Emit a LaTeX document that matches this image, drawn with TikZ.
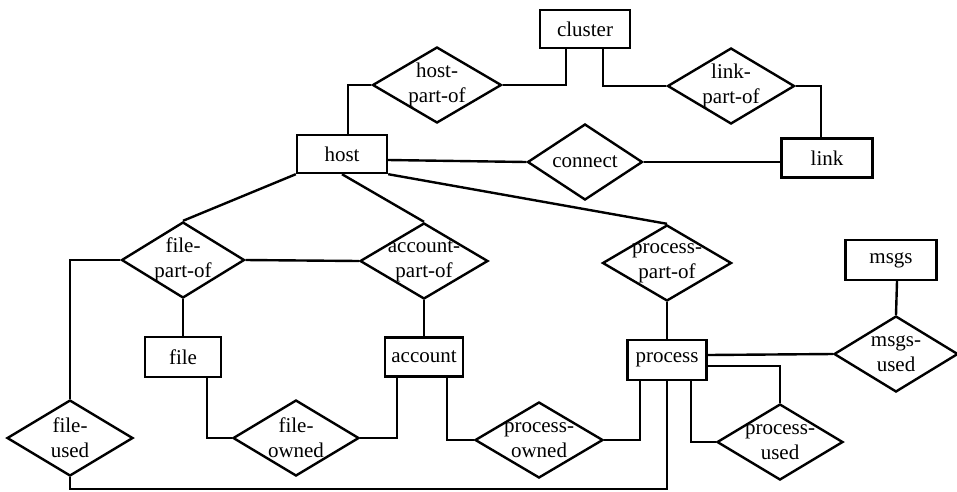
\documentclass[tikz,border=0pt]{standalone}
\usepackage{fontspec}
\setmainfont{Liberation Serif}
\usetikzlibrary{shapes.geometric}

\tikzset{
  entity/.style = {draw = black, minimum width = 90pt, minimum height = 38pt, inner sep = 0pt},
  relship/.style = {draw = black, shape = diamond, minimum width = 126pt, minimum height = 76pt, inner sep = 0pt},
  rtext/.style = {align = center, inner sep = 0pt}
}

\begin{document}
\begin{tikzpicture}[x = 1pt, y = -1pt, line width = 2.4pt, font = \fontsize{21}{25}\selectfont]
\useasboundingbox (0, 0) rectangle (957, 491);

\node [entity] (cluster) at (585, 29) {cluster};
\node [entity] (host) at (342, 154) {host};
\node [entity, minimum width = 91pt, minimum height = 39pt] (link) at (827, 158) {link};
\node [entity, minimum width = 76pt, minimum height = 40pt] (file) at (183, 357) {file};
\node [entity, minimum width = 78pt, minimum height = 39pt] (account) at (424, 357) {account};
\node [entity, minimum width = 79pt, minimum height = 40pt] (process) at (667, 360) {process};
\node [entity, minimum width = 91pt, minimum height = 40pt] (msgs) at (891, 260) {msgs};

\node [relship, minimum width = 129pt, label = {[rtext]center:{host-\\part-of}}] (hpo) at (437, 85) {};
\node [relship, minimum width = 127pt, label = {[rtext]center:{link-\\part-of}}] (lpo) at (731, 86) {};
\node [relship, minimum width = 115pt, label = {[rtext]center:connect}] (con) at (585, 162) {};
\node [relship, minimum width = 123pt, label = {[rtext]center:{file-\\part-of}}] (fpo) at (183, 260) {};
\node [relship, minimum width = 128pt, label = {[rtext]center:{account-\\part-of}}] (apo) at (424, 261) {};
\node [relship, minimum width = 129pt, label = {[rtext]center:{process-\\part-of}}] (ppo) at (667, 263) {};
\node [relship, label = {[rtext]center:{file-\\used}}] (fu) at (70, 438) {};
\node [relship, label = {[rtext]center:{file-\\owned}}] (fo) at (296, 438) {};
\node [relship, minimum width = 128pt, label = {[rtext]center:{process-\\owned}}] (po) at (539, 440) {};
\node [relship, label = {[rtext]center:{process-\\used}}] (pu) at (780, 442) {};
\node [relship, minimum width = 124pt, label = {[rtext]center:{msgs-\\used}}] (msu) at (896, 354) {};

% host and cluster
\path [draw] ([xshift = 6pt] host.north) |- (hpo.west);
\path [draw] (hpo.east) -| ([xshift = -19pt] cluster.south);
\path [draw] ([xshift = 18pt] cluster.south) |- (lpo.west);
\path [draw] (lpo.east) -| ([xshift = -6pt] link.north);
\path [draw] ([yshift = -6pt] host.east) -- (con.west);
\path [draw] (con.east) -- (con.east -| link.west);

% part-of
\path [draw] (host.south west) -- (fpo.north);
\path [draw] (host.south) -- (apo.north);
\path [draw] (host.south east) -- (ppo.north);
\path [draw] (fpo.east) -- (apo.west);
\path [draw] (fpo.south) -- (file.north);
\path [draw] (apo.south) -- (account.north);
\path [draw] (ppo.south) -- (process.north);

% owned / used
\path [draw] (fpo.west) -| (fu.north);
\path [draw] (fu.south) -- ++(0, 12) -| (process.south);
\path [draw] ([xshift = 24pt] file.south) |- (fo.west);
\path [draw] (fo.east) -| ([xshift = -27pt] account.south);
\path [draw] ([xshift = 23pt] account.south) |- (po.west);
\path [draw] (po.east) -| ([xshift = -27pt] process.south);
\path [draw] ([yshift = 5pt] process.east) -- (msu.west);
\path [draw] ([xshift = 6pt] msgs.south) -- (msu.north);
\path [draw] ([yshift = -6pt] process.east) -| (pu.north);
\path [draw] ([xshift = 24pt] process.south) |- (pu.west);

\end{tikzpicture}
\end{document}
